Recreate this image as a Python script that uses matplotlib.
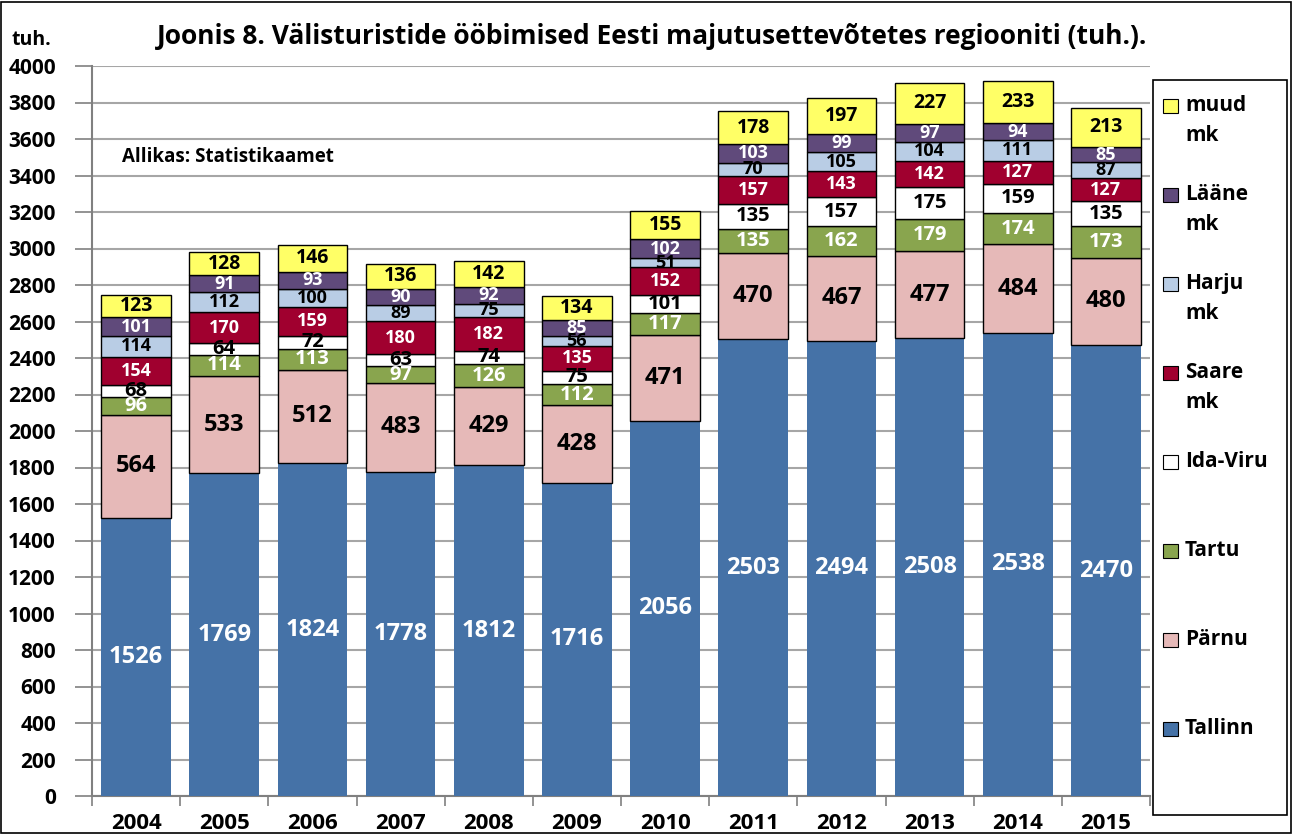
import matplotlib.pyplot as plt
from matplotlib.patches import Rectangle
import numpy as np

plt.rcParams['font.family'] = ['Open Sans', 'DejaVu Sans']
plt.rcParams['font.weight'] = 'bold'

years = ["2004", "2005", "2006", "2007", "2008", "2009", "2010",
         "2011", "2012", "2013", "2014", "2015"]

tallinn = [1526, 1769, 1824, 1778, 1812, 1716, 2056, 2503, 2494, 2508, 2538, 2470]
parnu = [564, 533, 512, 483, 429, 428, 471, 470, 467, 477, 484, 480]
tartu = [96, 114, 113, 97, 126, 112, 117, 135, 162, 179, 174, 173]
ida_viru = [68, 64, 72, 63, 74, 75, 101, 135, 157, 175, 159, 135]
saare = [154, 170, 159, 180, 182, 135, 152, 157, 143, 142, 127, 127]
harju = [114, 112, 100, 89, 75, 56, 51, 70, 105, 104, 111, 87]
laane = [101, 91, 93, 90, 92, 85, 102, 103, 99, 97, 94, 85]
muud = [123, 128, 146, 136, 142, 134, 155, 178, 197, 227, 233, 213]

# name, values, fill colour, label colour, label size
series = [
    ("Tallinn", tallinn, "#4572A7", "white", 17),
    ("Pärnu", parnu, "#E6B9B8", "black", 17),
    ("Tartu", tartu, "#89A54E", "white", 14.5),
    ("Ida-Viru", ida_viru, "#FFFFFF", "black", 14.5),
    ("Saare\nmk", saare, "#A0002F", "white", 13),
    ("Harju\nmk", harju, "#B9CDE5", "black", 13),
    ("Lääne\nmk", laane, "#604A7B", "white", 13),
    ("muud\nmk", muud, "#FFFF66", "black", 14),
]

W, H = 1293, 834
fig = plt.figure(figsize=(W / 100, H / 100), dpi=100)
ax = fig.add_axes([92 / W, 1 - 796 / H, (1150 - 92) / W, (796 - 66) / H])

x = np.arange(len(years))
bottom = np.zeros(len(years))
for name, vals, color, tcolor, fs in series:
    vals = np.array(vals)
    ec = "none" if name == "Tallinn" else "black"
    bars = ax.bar(x, vals, 0.79, bottom=bottom, color=color, edgecolor=ec,
                  linewidth=1.0, zorder=3)
    ax.bar_label(bars, labels=[str(v) for v in vals], label_type="center",
                 color=tcolor, fontsize=fs, fontweight="bold", zorder=4)
    bottom += vals

ax.set_xlim(-0.5, len(years) - 0.5)
ax.set_ylim(0, 4000)
ax.set_yticks(np.arange(0, 4001, 200))
ax.set_xticks(x)
ax.set_xticklabels(years)
ax.set_xticks(np.arange(-0.5, len(years), 1), minor=True)
ax.tick_params(axis="x", which="major", length=0, pad=12, labelsize=16)
ax.tick_params(axis="x", which="minor", length=7, color="#808080", width=1.2)
ax.tick_params(axis="y", length=12, color="#808080", width=1.2, labelsize=15, pad=14)
for lab in ax.get_xticklabels() + ax.get_yticklabels():
    lab.set_fontweight("bold")
ax.grid(axis="y", color="#A6A6A6", linewidth=1.5, zorder=0)
for s in ["top", "right"]:
    ax.spines[s].set_visible(False)
for s in ["left", "bottom"]:
    ax.spines[s].set_color("#808080")
    ax.spines[s].set_linewidth(1.5)

ax.text(30 / 1058, 3500, "Allikas: Statistikaamet", fontsize=13.5,
        fontweight="bold", va="center", ha="left",
        transform=ax.get_yaxis_transform())

fig.text(652 / W, 1 - 37 / H,
         "Joonis 8. Välisturistide ööbimised Eesti majutusettevõtetes regiooniti (tuh.).",
         ha="center", va="center", fontsize=19, fontweight="bold")
fig.text(12 / W, 1 - 40 / H, "tuh.", ha="left", va="center", fontsize=14,
         fontweight="bold")

# legend drawn by hand so the first lines are evenly spaced
fig.patches.append(Rectangle((1153 / W, 1 - 815 / H), 134 / W, 735 / H,
                             transform=fig.transFigure, fill=False,
                             edgecolor="black", linewidth=1.2))
for i, (name, vals, color, tcolor, fs) in enumerate(reversed(series)):
    yc = 106 + i * 89
    fig.patches.append(Rectangle((1163 / W, 1 - (yc + 7) / H), 15 / W, 14 / H,
                                 transform=fig.transFigure, facecolor=color,
                                 edgecolor="black", linewidth=0.8))
    fig.text(1185 / W, 1 - (yc - 11) / H, name, ha="left", va="top",
             fontsize=15, fontweight="bold", linespacing=1.55)

fig.patches.append(Rectangle((1 / W, 1 / H), (W - 3) / W, (H - 3) / H,
                             transform=fig.transFigure, fill=False,
                             edgecolor="black", linewidth=1.2))

fig.savefig("out.png", dpi=100)
